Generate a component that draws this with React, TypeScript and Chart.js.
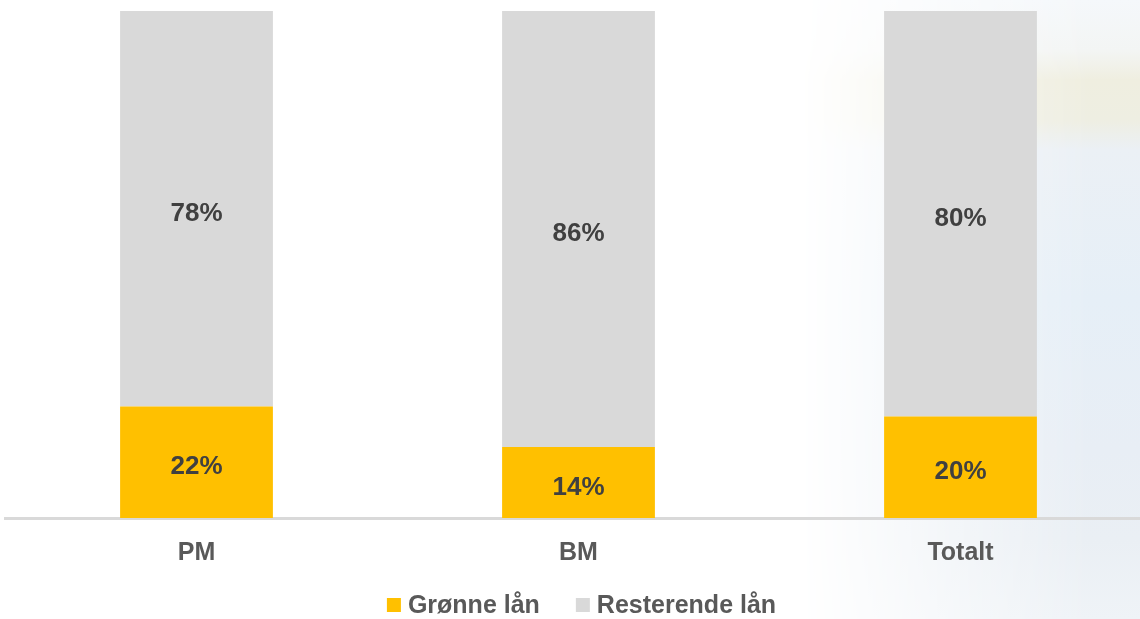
import React, { useEffect, useRef } from "react";
import { Chart, registerables } from "chart.js";

Chart.register(...registerables);

const categories = ["PM", "BM", "Totalt"];
const greenLoans = [22, 14, 20];
const remainingLoans = [78, 86, 80];
const seriesNames = ["Grønne lån", "Resterende lån"];
const seriesColors = ["#FFC000", "#D9D9D9"];

const FONT = "'Liberation Sans', Arial, sans-serif";

const valueLabels = {
  id: "valueLabels",
  afterDatasetsDraw(chart: any) {
    const ctx = chart.ctx;
    ctx.save();
    ctx.font = `bold 26px ${FONT}`;
    ctx.fillStyle = "#404040";
    ctx.textAlign = "center";
    ctx.textBaseline = "middle";
    chart.data.datasets.forEach((ds: any, di: number) => {
      const meta = chart.getDatasetMeta(di);
      meta.data.forEach((el: any, i: number) => {
        const c = el.getCenterPoint();
        ctx.fillText(`${ds.data[i]}%`, c.x, c.y + 5);
      });
    });
    ctx.restore();
  },
};

// Legend drawn under the axis labels, built from the datasets
const bottomLegend = {
  id: "bottomLegend",
  afterDraw(chart: any) {
    const ctx = chart.ctx;
    const box = 14;
    const boxGap = 7;
    const itemGap = 36;
    ctx.save();
    ctx.font = `bold 25px ${FONT}`;
    const items = chart.data.datasets.map((ds: any) => ({
      text: ds.label,
      color: ds.backgroundColor,
      w: box + boxGap + ctx.measureText(ds.label).width,
    }));
    const total = items.reduce((s: number, it: any) => s + it.w, 0) + itemGap * (items.length - 1);
    const cx = (chart.chartArea.left + chart.chartArea.right) / 2 + 3;
    const cy = chart.height - 14;
    let x = cx - total / 2;
    ctx.textBaseline = "middle";
    ctx.textAlign = "left";
    items.forEach((it: any) => {
      ctx.fillStyle = it.color;
      ctx.fillRect(x, cy - box / 2, box, box);
      ctx.fillStyle = "#595959";
      ctx.fillText(it.text, x + box + boxGap, cy + 1);
      x += it.w + itemGap;
    });
    ctx.restore();
  },
};

export default function App() {
  const ref = useRef<HTMLCanvasElement | null>(null);

  useEffect(() => {
    document.body.style.margin = "0";
    document.body.style.overflow = "hidden";
    const chart = new Chart(ref.current as HTMLCanvasElement, {
      type: "bar",
      data: {
        labels: categories,
        datasets: [
          {
            label: seriesNames[0],
            data: greenLoans,
            backgroundColor: seriesColors[0],
            borderWidth: 0,
            barPercentage: 0.4,
            categoryPercentage: 1,
          },
          {
            label: seriesNames[1],
            data: remainingLoans,
            backgroundColor: seriesColors[1],
            borderWidth: 0,
            barPercentage: 0.4,
            categoryPercentage: 1,
          },
        ],
      },
      options: {
        animation: false,
        responsive: true,
        maintainAspectRatio: false,
        layout: { padding: { left: 5.5, right: 8.5, top: 11, bottom: 31 } },
        scales: {
          x: {
            stacked: true,
            grid: { display: false, drawTicks: false },
            border: { display: true, color: "#D9D9D9", width: 3 },
            ticks: {
              color: "#595959",
              font: { family: FONT, size: 25, weight: "bold" },
              padding: 20,
            },
          },
          y: {
            stacked: true,
            display: false,
            min: 0,
            max: 100,
          },
        },
        plugins: {
          legend: { display: false },
          tooltip: { enabled: false },
        },
      },
      plugins: [valueLabels, bottomLegend],
    });
    return () => chart.destroy();
  }, []);

  return (
    <div style={{ position: "absolute", left: 0, top: 0, width: 1140, height: 619, overflow: "hidden", background: "#ffffff" }}>
      <div
        style={{
          position: "absolute",
          left: 0,
          top: 0,
          width: 1140,
          height: 619,
          background:
            "linear-gradient(180deg, #f5f8fb 0px, #f3f5f4 50px, #efeee0 80px, #eeeee2 120px, #ebf0f5 150px, #e6eff7 300px, #e8eef5 450px, #eaeff4 540px, #eff3f7 619px)",
          WebkitMaskImage: "linear-gradient(90deg, rgba(0,0,0,0) 800px, rgba(0,0,0,0.55) 950px, rgba(0,0,0,1) 1090px)",
          maskImage: "linear-gradient(90deg, rgba(0,0,0,0) 800px, rgba(0,0,0,0.55) 950px, rgba(0,0,0,1) 1090px)",
        }}
      />
      <div style={{ position: "absolute", left: 0, top: 0, width: 1160, height: 619 }}>
        <canvas ref={ref} />
      </div>
    </div>
  );
}
